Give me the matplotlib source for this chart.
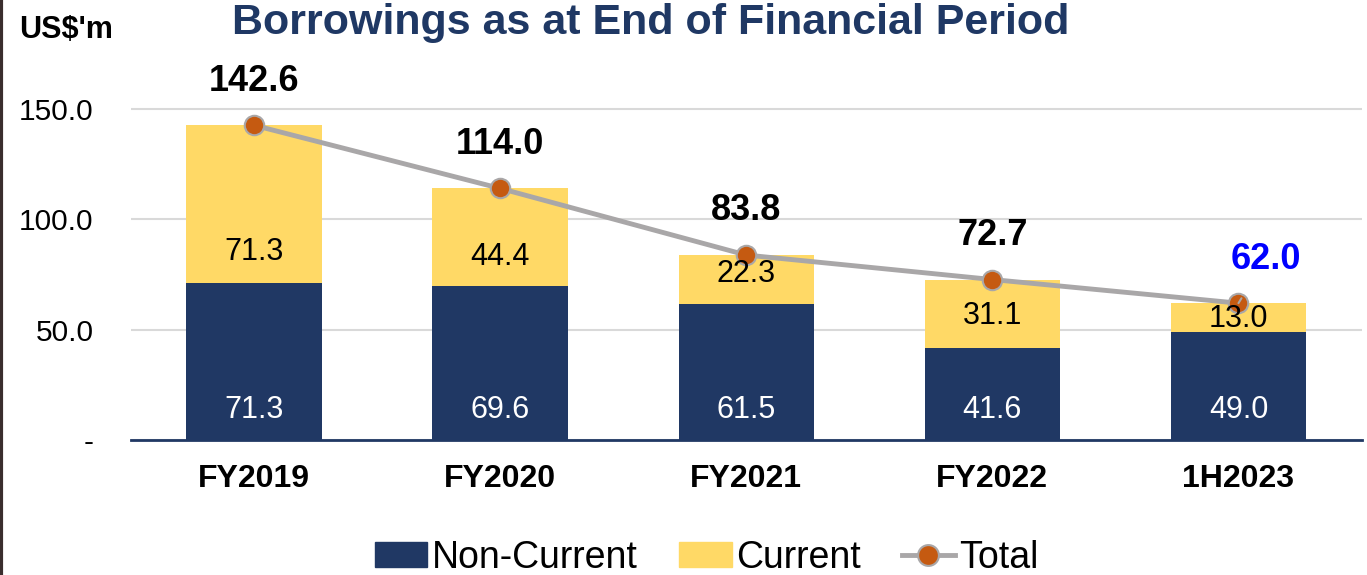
import matplotlib.pyplot as plt
from matplotlib.lines import Line2D

plt.rcParams['font.family'] = ['Liberation Sans', 'DejaVu Sans']

periods = ['FY2019', 'FY2020', 'FY2021', 'FY2022', '1H2023']
non_current = [71.3, 69.6, 61.5, 41.6, 49.0]
current = [71.3, 44.4, 22.3, 31.1, 13.0]
total = [142.6, 114.0, 83.8, 72.7, 62.0]

# where the yellow-segment labels sit (data units)
cur_label_y = [85, 83, 75, 56, 55]

navy = '#203864'
yellow = '#FFD966'
grey = '#A9A7A8'
orange = '#C55A11'

fig = plt.figure(figsize=(13.67, 5.75), dpi=100)
ax = fig.add_axes([0.0958, 0.2348, 0.9002, 0.6717])

x = range(len(periods))
ax.bar(x, non_current, width=0.55, color=navy, zorder=2)
ax.bar(x, current, width=0.55, bottom=non_current, color=yellow, zorder=2)
ax.plot(x, total, color=grey, lw=3.5, marker='o', ms=14,
        mfc=orange, mec=grey, mew=1.5, zorder=4)

for i in x:
    ax.text(i, 13.6, f'{non_current[i]:.1f}', color='white', fontsize=22,
            ha='center', va='center', zorder=5)
    ax.text(i, cur_label_y[i], f'{current[i]:.1f}', color='black', fontsize=22,
            ha='center', va='center', zorder=5)
    if i < len(periods) - 1:
        ax.text(i, total[i] + 20, f'{total[i]:.1f}', color='black', fontsize=26,
                fontweight='bold', ha='center', va='center', zorder=5)

# last total label is blue with a leader line
last = len(periods) - 1
ax.annotate(f'{total[last]:.1f}', xy=(last, total[last]),
            xytext=(last + 0.11, total[last] + 20), textcoords='data',
            color='#0000FF', fontsize=26, fontweight='bold',
            ha='center', va='center', zorder=5,
            arrowprops=dict(arrowstyle='-', color=grey, lw=1.5,
                            shrinkA=16, shrinkB=0))

ax.set_xlim(-0.5, len(periods) - 0.5)
ax.set_ylim(0, 175)
ax.set_yticks([0, 50, 100, 150])
ax.set_yticklabels(['-', '50.0', '100.0', '150.0'])
ax.set_xticks(list(x))
ax.set_xticklabels(periods, fontweight='bold')
ax.tick_params(axis='y', length=0, labelsize=21.5, pad=27)
ax.tick_params(axis='x', length=0, labelsize=23, pad=17)
ax.grid(axis='y', color='#D9D9D9', lw=1.5, zorder=0)
ax.set_axisbelow(True)
for s in ['top', 'right', 'left']:
    ax.spines[s].set_visible(False)
ax.spines['bottom'].set_color(navy)
ax.spines['bottom'].set_linewidth(2)
ax.spines['bottom'].set_zorder(3)

fig.text(0.476, 0.96, 'Borrowings as at End of Financial Period', color='#1F3864',
         fontsize=31, fontweight='bold', ha='center', va='center')
fig.text(0.014, 0.948, "US$'m", color='black', fontsize=22, fontweight='bold',
         ha='left', va='center')

handles = [
    plt.Rectangle((0, 0), 1, 1, color=navy),
    plt.Rectangle((0, 0), 1, 1, color=yellow),
    Line2D([], [], color=grey, lw=3.5, marker='o', ms=15, mfc=orange, mec=grey, mew=1.5),
]
fig.legend(handles, ['Non-Current', 'Current', 'Total'], loc='center',
           bbox_to_anchor=(0.517, 0.03), ncol=3, frameon=False, fontsize=27,
           handlelength=1.4, handleheight=0.67, handletextpad=0.12, columnspacing=1.1)

# dark border on the left edge
fig.add_artist(Line2D([0.001, 0.001], [0, 1], color='#3A2E2E', lw=3))

fig.savefig('out.png', dpi=100)
